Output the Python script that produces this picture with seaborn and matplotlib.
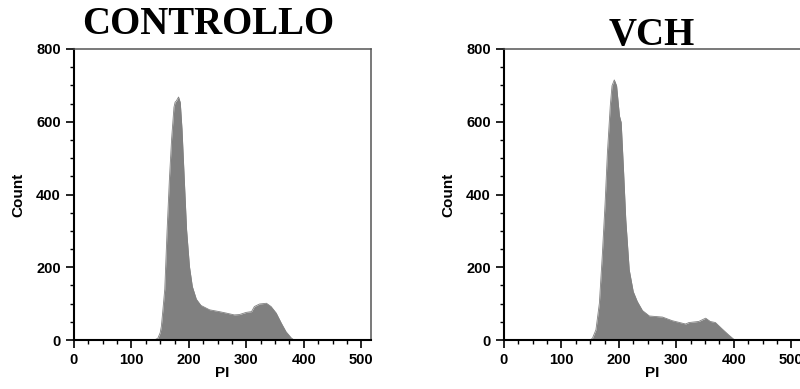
import matplotlib
matplotlib.use("Agg")
import matplotlib.pyplot as plt
import seaborn as sns
import numpy as np
from matplotlib.ticker import MultipleLocator

# ---- data ----
ctrl_pi = [0, 140, 146, 150, 152, 154, 158, 162, 166, 170, 174, 176, 178, 182, 185, 188,
           192, 196, 201, 206, 213, 221, 236, 253, 265, 279, 288, 300, 309, 314,
           323, 335, 343, 352, 361, 369, 378, 383, 520]
ctrl_count = [0, 0, 5, 20, 37, 70, 140, 300, 440, 555, 640, 654, 657, 668, 653, 580,
              441, 303, 202, 147, 112, 95, 83, 78, 74, 69, 70, 76, 78, 92,
              99, 101, 92, 74, 46, 23, 6, 0, 0]

vch_pi = [0, 150, 154, 160, 166, 171, 176, 180, 185, 188, 192, 196, 201, 204, 208,
          212, 218, 225, 232, 241, 253, 276, 293, 316, 322, 339, 351, 359, 368,
          380, 391, 400, 403, 520]
vch_count = [0, 0, 5, 28, 101, 230, 377, 515, 644, 699, 715, 699, 616, 598, 469,
             331, 193, 133, 106, 81, 66, 63, 53, 44, 48, 51, 60, 51, 48,
             30, 14, 2, 0, 0]

titles = ["CONTROLLO", "VCH"]
x_label = "PI"
y_label = "Count"

# ---- figure ----
sns.set_style("ticks")
plt.rcParams["font.family"] = ["Liberation Sans", "DejaVu Sans"]
plt.rcParams.update({"text.color": "black", "axes.labelcolor": "black",
                     "xtick.color": "black", "ytick.color": "black"})

W, H = 800, 389
fig = plt.figure(figsize=(W / 100, H / 100), dpi=100)

axes_px = [(74, 49, 297, 291), (504, 49, 297, 291)]
title_pos = [(208, 34), (652, 45)]
datasets = [(ctrl_pi, ctrl_count), (vch_pi, vch_count)]

for (x0, y0, w, h), (px, cnt), title, (tx, ty) in zip(axes_px, datasets, titles, title_pos):
    ax = fig.add_axes([x0 / W, 1 - (y0 + h) / H, w / W, h / H])
    sns.lineplot(x=px, y=cnt, ax=ax, color="#808080", linewidth=0.6)
    ax.fill_between(px, cnt, 0, color="#808080", linewidth=0)
    ax.set_xlim(0, 517)
    ax.set_ylim(0, 800)
    ax.xaxis.set_major_locator(MultipleLocator(100))
    ax.xaxis.set_minor_locator(MultipleLocator(25))
    ax.yaxis.set_major_locator(MultipleLocator(200))
    ax.yaxis.set_minor_locator(MultipleLocator(50))
    ax.tick_params(which="major", direction="out", length=6, width=1.2, color="black",
                   labelsize=10.5, labelcolor="black", pad=3.5)
    ax.tick_params(which="minor", direction="out", length=3, width=1.0, color="black")
    for lab in ax.get_xticklabels() + ax.get_yticklabels():
        lab.set_fontweight("bold")
    ax.set_xlabel(x_label, fontsize=11, fontweight="bold", labelpad=-1, color="black")
    ax.set_ylabel(y_label, fontsize=11, fontweight="bold", labelpad=8, color="black")
    for s in ["left", "bottom"]:
        ax.spines[s].set_color("black")
        ax.spines[s].set_linewidth(1.5)
    for s in ["top", "right"]:
        ax.spines[s].set_color("#555555")
        ax.spines[s].set_linewidth(1.1)
    ax.set_facecolor("white")
    fig.text(tx / W, 1 - ty / H, title, ha="center", va="baseline", color="black",
             fontsize=28, fontweight="bold", family=["Liberation Serif", "DejaVu Serif"])

fig.savefig("out.png", dpi=100)
